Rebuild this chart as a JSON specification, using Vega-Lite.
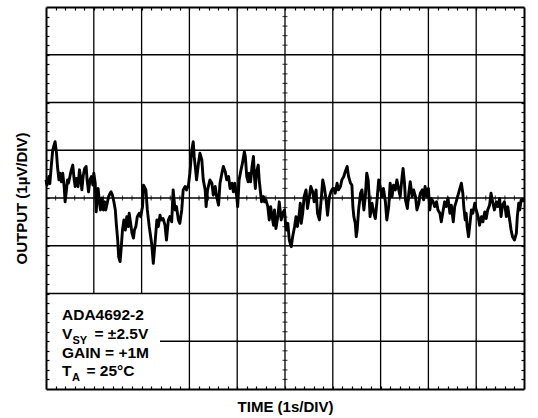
{
  "$schema": "https://vega.github.io/schema/vega-lite/v6.json",
  "width": 478,
  "height": 382,
  "autosize": {"type": "none"},
  "padding": {"left": 46, "top": 7, "right": 14, "bottom": 29},
  "background": "white",
  "config": {
    "view": {"stroke": null},
    "font": "Liberation Sans",
    "axis": {
      "labels": false,
      "grid": false,
      "domainColor": "black",
      "domainWidth": 2,
      "tickColor": "black",
      "tickWidth": 1.2,
      "tickSize": -3,
      "zindex": 1,
      "titleFont": "Liberation Sans",
      "titleFontSize": 15,
      "titleFontWeight": "bold",
      "titleColor": "black"
    }
  },
  "datasets": {
    "grid": [
      {"x1": 1, "x2": 1, "y1": -2, "y2": 4},
      {"x1": 2, "x2": 2, "y1": -2, "y2": 4},
      {"x1": 3, "x2": 3, "y1": -4, "y2": 4},
      {"x1": 4, "x2": 4, "y1": -4, "y2": 4},
      {"x1": 5, "x2": 5, "y1": -4, "y2": 4},
      {"x1": 6, "x2": 6, "y1": -4, "y2": 4},
      {"x1": 7, "x2": 7, "y1": -4, "y2": 4},
      {"x1": 8, "x2": 8, "y1": -4, "y2": 4},
      {"x1": 9, "x2": 9, "y1": -4, "y2": 4},
      {"x1": 0, "x2": 10, "y1": 3, "y2": 3},
      {"x1": 0, "x2": 10, "y1": 2, "y2": 2},
      {"x1": 0, "x2": 10, "y1": 1, "y2": 1},
      {"x1": 0, "x2": 10, "y1": 0, "y2": 0},
      {"x1": 0, "x2": 10, "y1": -1, "y2": -1},
      {"x1": 0, "x2": 10, "y1": -2, "y2": -2},
      {"x1": 2.385, "x2": 10, "y1": -3, "y2": -3}
    ],
    "xminor": [
      {"t": 0.2}, {"t": 0.4}, {"t": 0.6}, {"t": 0.8}, {"t": 1.2}, {"t": 1.4}, {"t": 1.6}, {"t": 1.8},
      {"t": 2.2}, {"t": 2.4}, {"t": 2.6}, {"t": 2.8}, {"t": 3.2}, {"t": 3.4}, {"t": 3.6}, {"t": 3.8},
      {"t": 4.2}, {"t": 4.4}, {"t": 4.6}, {"t": 4.8}, {"t": 5.2}, {"t": 5.4}, {"t": 5.6}, {"t": 5.8},
      {"t": 6.2}, {"t": 6.4}, {"t": 6.6}, {"t": 6.8}, {"t": 7.2}, {"t": 7.4}, {"t": 7.6}, {"t": 7.8},
      {"t": 8.2}, {"t": 8.4}, {"t": 8.6}, {"t": 8.8}, {"t": 9.2}, {"t": 9.4}, {"t": 9.6}, {"t": 9.8}
    ],
    "yminor": [
      {"v": -3.8}, {"v": -3.6}, {"v": -3.4}, {"v": -3.2}, {"v": -2.8}, {"v": -2.6}, {"v": -2.4}, {"v": -2.2},
      {"v": -1.8}, {"v": -1.6}, {"v": -1.4}, {"v": -1.2}, {"v": -0.8}, {"v": -0.6}, {"v": -0.4}, {"v": -0.2},
      {"v": 0.2}, {"v": 0.4}, {"v": 0.6}, {"v": 0.8}, {"v": 1.2}, {"v": 1.4}, {"v": 1.6}, {"v": 1.8},
      {"v": 2.2}, {"v": 2.4}, {"v": 2.6}, {"v": 2.8}, {"v": 3.2}, {"v": 3.4}, {"v": 3.6}, {"v": 3.8}
    ],
    "trace": [
      {"t": 0.00, "v": 0.38}, {"t": 0.02, "v": 0.27}, {"t": 0.06, "v": 0.45}, {"t": 0.08, "v": 0.30},
      {"t": 0.11, "v": 0.66}, {"t": 0.14, "v": 1.00}, {"t": 0.17, "v": 1.11}, {"t": 0.19, "v": 1.18},
      {"t": 0.22, "v": 0.94}, {"t": 0.24, "v": 0.66}, {"t": 0.27, "v": 0.38}, {"t": 0.29, "v": 0.52},
      {"t": 0.32, "v": 0.34}, {"t": 0.35, "v": 0.52}, {"t": 0.38, "v": 0.24}, {"t": 0.40, "v": -0.08},
      {"t": 0.42, "v": 0.10}, {"t": 0.45, "v": 0.38}, {"t": 0.47, "v": 0.31}, {"t": 0.50, "v": 0.45},
      {"t": 0.53, "v": 0.59}, {"t": 0.56, "v": 0.69}, {"t": 0.59, "v": 0.38}, {"t": 0.61, "v": 0.24},
      {"t": 0.64, "v": 0.41}, {"t": 0.67, "v": 0.24}, {"t": 0.70, "v": 0.59}, {"t": 0.73, "v": 0.38},
      {"t": 0.75, "v": 0.17}, {"t": 0.78, "v": 0.48}, {"t": 0.81, "v": 0.62}, {"t": 0.84, "v": 0.66},
      {"t": 0.86, "v": 0.38}, {"t": 0.89, "v": 0.13}, {"t": 0.92, "v": 0.38}, {"t": 0.95, "v": 0.45},
      {"t": 0.98, "v": 0.27}, {"t": 1.00, "v": 0.52}, {"t": 1.03, "v": 0.31}, {"t": 1.05, "v": -0.29},
      {"t": 1.07, "v": 0.03}, {"t": 1.09, "v": 0.20}, {"t": 1.12, "v": -0.11}, {"t": 1.14, "v": -0.25},
      {"t": 1.17, "v": 0.00}, {"t": 1.20, "v": -0.25}, {"t": 1.23, "v": -0.08}, {"t": 1.25, "v": -0.25},
      {"t": 1.28, "v": -0.11}, {"t": 1.31, "v": 0.03}, {"t": 1.34, "v": 0.10}, {"t": 1.36, "v": 0.13},
      {"t": 1.39, "v": 0.06}, {"t": 1.42, "v": -0.08}, {"t": 1.45, "v": -0.25}, {"t": 1.47, "v": -0.53},
      {"t": 1.50, "v": -0.88}, {"t": 1.52, "v": -1.23}, {"t": 1.55, "v": -1.33}, {"t": 1.57, "v": -1.09},
      {"t": 1.60, "v": -0.67}, {"t": 1.63, "v": -0.46}, {"t": 1.66, "v": -0.67}, {"t": 1.69, "v": -0.39},
      {"t": 1.72, "v": -0.60}, {"t": 1.74, "v": -0.32}, {"t": 1.77, "v": -0.53}, {"t": 1.80, "v": -0.74},
      {"t": 1.83, "v": -0.84}, {"t": 1.85, "v": -0.67}, {"t": 1.88, "v": -0.60}, {"t": 1.91, "v": -0.39},
      {"t": 1.95, "v": -0.32}, {"t": 1.98, "v": -0.39}, {"t": 2.02, "v": -0.18}, {"t": 2.04, "v": 0.27},
      {"t": 2.09, "v": 0.17}, {"t": 2.12, "v": -0.25}, {"t": 2.16, "v": -0.60}, {"t": 2.21, "v": -0.95},
      {"t": 2.245, "v": -1.37}, {"t": 2.28, "v": -0.95}, {"t": 2.32, "v": -0.46}, {"t": 2.35, "v": -0.60},
      {"t": 2.385, "v": -0.36}, {"t": 2.41, "v": -0.46}, {"t": 2.45, "v": -0.43}, {"t": 2.49, "v": -0.57},
      {"t": 2.52, "v": -0.88}, {"t": 2.56, "v": -0.46}, {"t": 2.59, "v": -0.39}, {"t": 2.63, "v": -0.50},
      {"t": 2.66, "v": 0.17}, {"t": 2.70, "v": -0.25}, {"t": 2.73, "v": -0.18}, {"t": 2.77, "v": -0.46},
      {"t": 2.80, "v": -0.53}, {"t": 2.84, "v": -0.25}, {"t": 2.87, "v": 0.17}, {"t": 2.91, "v": 0.24},
      {"t": 2.94, "v": 0.17}, {"t": 2.98, "v": 0.27}, {"t": 3.01, "v": 0.52}, {"t": 3.05, "v": 1.00},
      {"t": 3.08, "v": 1.18}, {"t": 3.10, "v": 0.87}, {"t": 3.13, "v": 0.59}, {"t": 3.15, "v": 0.38},
      {"t": 3.19, "v": 0.73}, {"t": 3.22, "v": 0.94}, {"t": 3.26, "v": 0.80}, {"t": 3.29, "v": 0.38},
      {"t": 3.33, "v": 0.17}, {"t": 3.35, "v": -0.18}, {"t": 3.38, "v": 0.17}, {"t": 3.43, "v": 0.38},
      {"t": 3.47, "v": 0.31}, {"t": 3.50, "v": 0.06}, {"t": 3.54, "v": 0.24}, {"t": 3.57, "v": 0.03},
      {"t": 3.61, "v": -0.15}, {"t": 3.64, "v": 0.31}, {"t": 3.68, "v": 0.52}, {"t": 3.71, "v": 0.66},
      {"t": 3.75, "v": 0.55}, {"t": 3.78, "v": 0.38}, {"t": 3.82, "v": 0.45}, {"t": 3.85, "v": 0.20},
      {"t": 3.89, "v": 0.31}, {"t": 3.92, "v": 0.13}, {"t": 3.95, "v": 0.31}, {"t": 3.99, "v": 0.03},
      {"t": 4.01, "v": -0.18}, {"t": 4.04, "v": 0.38}, {"t": 4.08, "v": 0.59}, {"t": 4.11, "v": 0.73},
      {"t": 4.15, "v": 0.97}, {"t": 4.17, "v": 0.87}, {"t": 4.20, "v": 0.45}, {"t": 4.23, "v": 0.34},
      {"t": 4.25, "v": 0.52}, {"t": 4.28, "v": 0.34}, {"t": 4.31, "v": 0.66}, {"t": 4.34, "v": 0.87},
      {"t": 4.36, "v": 0.45}, {"t": 4.38, "v": 0.20}, {"t": 4.40, "v": 0.52}, {"t": 4.44, "v": 0.69},
      {"t": 4.46, "v": 0.38}, {"t": 4.49, "v": 0.10}, {"t": 4.51, "v": -0.08}, {"t": 4.55, "v": 0.03},
      {"t": 4.57, "v": -0.08}, {"t": 4.60, "v": -0.04}, {"t": 4.64, "v": -0.18}, {"t": 4.67, "v": -0.46},
      {"t": 4.70, "v": -0.18}, {"t": 4.73, "v": -0.39}, {"t": 4.76, "v": -0.57}, {"t": 4.78, "v": -0.25},
      {"t": 4.81, "v": -0.64}, {"t": 4.85, "v": -0.39}, {"t": 4.88, "v": -0.08}, {"t": 4.92, "v": -0.46},
      {"t": 4.95, "v": -0.32}, {"t": 4.99, "v": -0.25}, {"t": 5.01, "v": -0.53}, {"t": 5.03, "v": -0.67},
      {"t": 5.06, "v": -0.53}, {"t": 5.09, "v": -0.88}, {"t": 5.13, "v": -1.02}, {"t": 5.16, "v": -0.81},
      {"t": 5.20, "v": -0.60}, {"t": 5.23, "v": -0.39}, {"t": 5.26, "v": -0.60}, {"t": 5.30, "v": -0.32},
      {"t": 5.32, "v": -0.11}, {"t": 5.34, "v": -0.53}, {"t": 5.37, "v": -0.32}, {"t": 5.40, "v": 0.03},
      {"t": 5.44, "v": 0.17}, {"t": 5.47, "v": -0.22}, {"t": 5.51, "v": 0.03}, {"t": 5.54, "v": 0.24},
      {"t": 5.58, "v": 0.13}, {"t": 5.61, "v": -0.08}, {"t": 5.65, "v": 0.17}, {"t": 5.68, "v": -0.32},
      {"t": 5.72, "v": -0.46}, {"t": 5.75, "v": -0.11}, {"t": 5.79, "v": 0.38}, {"t": 5.82, "v": 0.24},
      {"t": 5.86, "v": -0.04}, {"t": 5.89, "v": -0.36}, {"t": 5.93, "v": 0.03}, {"t": 5.96, "v": 0.13},
      {"t": 6.00, "v": 0.20}, {"t": 6.02, "v": 0.20}, {"t": 6.05, "v": 0.10}, {"t": 6.09, "v": 0.31},
      {"t": 6.12, "v": 0.17}, {"t": 6.16, "v": 0.24}, {"t": 6.19, "v": 0.38}, {"t": 6.23, "v": 0.45},
      {"t": 6.26, "v": 0.55}, {"t": 6.30, "v": 0.66}, {"t": 6.33, "v": 0.45}, {"t": 6.37, "v": 0.31},
      {"t": 6.40, "v": 0.27}, {"t": 6.42, "v": -0.18}, {"t": 6.44, "v": -0.39}, {"t": 6.47, "v": -0.53},
      {"t": 6.49, "v": -0.81}, {"t": 6.51, "v": -0.67}, {"t": 6.54, "v": -0.25}, {"t": 6.58, "v": 0.10},
      {"t": 6.61, "v": 0.17}, {"t": 6.65, "v": -0.25}, {"t": 6.68, "v": 0.03}, {"t": 6.71, "v": 0.52},
      {"t": 6.74, "v": 0.38}, {"t": 6.76, "v": 0.03}, {"t": 6.78, "v": -0.39}, {"t": 6.82, "v": -0.11},
      {"t": 6.86, "v": -0.32}, {"t": 6.89, "v": -0.43}, {"t": 6.92, "v": -0.11}, {"t": 6.96, "v": 0.38},
      {"t": 6.99, "v": 0.24}, {"t": 7.03, "v": 0.03}, {"t": 7.06, "v": 0.20}, {"t": 7.10, "v": -0.08},
      {"t": 7.13, "v": -0.46}, {"t": 7.17, "v": -0.18}, {"t": 7.20, "v": 0.31}, {"t": 7.24, "v": 0.03},
      {"t": 7.27, "v": 0.27}, {"t": 7.31, "v": 0.17}, {"t": 7.34, "v": 0.38}, {"t": 7.38, "v": 0.17},
      {"t": 7.41, "v": 0.03}, {"t": 7.45, "v": 0.45}, {"t": 7.47, "v": 0.62}, {"t": 7.50, "v": 0.31},
      {"t": 7.52, "v": -0.04}, {"t": 7.56, "v": -0.22}, {"t": 7.59, "v": 0.10}, {"t": 7.62, "v": 0.34},
      {"t": 7.66, "v": 0.03}, {"t": 7.69, "v": 0.17}, {"t": 7.73, "v": 0.03}, {"t": 7.76, "v": -0.25},
      {"t": 7.80, "v": -0.11}, {"t": 7.83, "v": 0.10}, {"t": 7.87, "v": 0.17}, {"t": 7.90, "v": -0.04},
      {"t": 7.93, "v": 0.24}, {"t": 7.97, "v": 0.03}, {"t": 8.00, "v": 0.20}, {"t": 8.03, "v": -0.25},
      {"t": 8.06, "v": -0.01}, {"t": 8.10, "v": -0.08}, {"t": 8.13, "v": -0.18}, {"t": 8.17, "v": -0.08},
      {"t": 8.20, "v": -0.25}, {"t": 8.24, "v": -0.32}, {"t": 8.27, "v": -0.50}, {"t": 8.31, "v": -0.25},
      {"t": 8.34, "v": -0.08}, {"t": 8.37, "v": -0.18}, {"t": 8.41, "v": 0.00}, {"t": 8.45, "v": -0.32},
      {"t": 8.48, "v": -0.15}, {"t": 8.52, "v": -0.50}, {"t": 8.55, "v": -0.18}, {"t": 8.58, "v": -0.08},
      {"t": 8.62, "v": 0.06}, {"t": 8.65, "v": 0.17}, {"t": 8.69, "v": 0.31}, {"t": 8.72, "v": 0.10},
      {"t": 8.74, "v": -0.18}, {"t": 8.77, "v": -0.46}, {"t": 8.79, "v": -0.32}, {"t": 8.81, "v": -0.60},
      {"t": 8.84, "v": -0.81}, {"t": 8.87, "v": -0.53}, {"t": 8.90, "v": -0.25}, {"t": 8.93, "v": -0.32},
      {"t": 8.97, "v": -0.11}, {"t": 9.00, "v": -0.25}, {"t": 9.04, "v": -0.39}, {"t": 9.07, "v": -0.57},
      {"t": 9.11, "v": -0.39}, {"t": 9.14, "v": -0.50}, {"t": 9.18, "v": -0.29}, {"t": 9.21, "v": -0.43},
      {"t": 9.24, "v": -0.25}, {"t": 9.28, "v": -0.15}, {"t": 9.31, "v": 0.10}, {"t": 9.35, "v": -0.11},
      {"t": 9.38, "v": -0.25}, {"t": 9.42, "v": -0.08}, {"t": 9.45, "v": -0.18}, {"t": 9.49, "v": -0.01},
      {"t": 9.52, "v": -0.39}, {"t": 9.55, "v": -0.15}, {"t": 9.59, "v": -0.08}, {"t": 9.63, "v": -0.39},
      {"t": 9.66, "v": -0.18}, {"t": 9.70, "v": -0.46}, {"t": 9.73, "v": -0.67}, {"t": 9.76, "v": -0.81},
      {"t": 9.80, "v": -0.88}, {"t": 9.84, "v": -0.74}, {"t": 9.86, "v": -0.39}, {"t": 9.89, "v": -0.11},
      {"t": 9.91, "v": -0.25}, {"t": 9.94, "v": -0.04}, {"t": 9.98, "v": -0.04}, {"t": 10.00, "v": -0.08}
    ]
  },
  "resolve": {"axis": {"x": "independent", "y": "independent"}},
  "layer": [
    {
      "data": {"name": "grid"},
      "mark": {"type": "rule", "color": "black", "strokeWidth": 1.3},
      "encoding": {
        "x": {"field": "x1", "type": "quantitative",
              "scale": {"domain": [0, 10], "nice": false, "zero": false},
              "axis": {"orient": "bottom", "title": "TIME (1s/DIV)", "titlePadding": 10,
                       "values": [0.2,0.4,0.6,0.8,1,1.2,1.4,1.6,1.8,2,2.2,2.4,2.6,2.8,3,3.2,3.4,3.6,3.8,4,4.2,4.4,4.6,4.8,5,5.2,5.4,5.6,5.8,6,6.2,6.4,6.6,6.8,7,7.2,7.4,7.6,7.8,8,8.2,8.4,8.6,8.8,9,9.2,9.4,9.6,9.8]}},
        "x2": {"field": "x2"},
        "y": {"field": "y1", "type": "quantitative",
              "scale": {"domain": [-4, 4], "nice": false, "zero": false},
              "axis": {"orient": "left", "title": "OUTPUT (1µV/DIV)", "titlePadding": 16,
                       "values": [-3.8,-3.6,-3.4,-3.2,-3,-2.8,-2.6,-2.4,-2.2,-2,-1.8,-1.6,-1.4,-1.2,-1,-0.8,-0.6,-0.4,-0.2,0,0.2,0.4,0.6,0.8,1,1.2,1.4,1.6,1.8,2,2.2,2.4,2.6,2.8,3,3.2,3.4,3.6,3.8]}},
        "y2": {"field": "y2"}
      }
    },
    {
      "data": {"name": "xminor"},
      "mark": {"type": "tick", "orient": "vertical", "size": 5, "thickness": 1.2, "color": "black"},
      "encoding": {
        "x": {"field": "t", "type": "quantitative",
              "axis": {"orient": "top", "title": null,
                       "values": [0.2,0.4,0.6,0.8,1,1.2,1.4,1.6,1.8,2,2.2,2.4,2.6,2.8,3,3.2,3.4,3.6,3.8,4,4.2,4.4,4.6,4.8,5,5.2,5.4,5.6,5.8,6,6.2,6.4,6.6,6.8,7,7.2,7.4,7.6,7.8,8,8.2,8.4,8.6,8.8,9,9.2,9.4,9.6,9.8]}},
        "y": {"datum": 0, "type": "quantitative", "axis": null}
      }
    },
    {
      "data": {"name": "yminor"},
      "mark": {"type": "tick", "orient": "horizontal", "size": 5, "thickness": 1.2, "color": "black"},
      "encoding": {
        "y": {"field": "v", "type": "quantitative",
              "axis": {"orient": "right", "title": null,
                       "values": [-3.8,-3.6,-3.4,-3.2,-3,-2.8,-2.6,-2.4,-2.2,-2,-1.8,-1.6,-1.4,-1.2,-1,-0.8,-0.6,-0.4,-0.2,0,0.2,0.4,0.6,0.8,1,1.2,1.4,1.6,1.8,2,2.2,2.4,2.6,2.8,3,3.2,3.4,3.6,3.8]}},
        "x": {"datum": 5, "type": "quantitative", "axis": null}
      }
    },
    {
      "data": {"name": "trace"},
      "mark": {"type": "line", "color": "black", "strokeWidth": 2.9, "strokeJoin": "round"},
      "encoding": {
        "x": {"field": "t", "type": "quantitative", "axis": null},
        "y": {"field": "v", "type": "quantitative", "axis": null}
      }
    },
    {
      "data": {"values": [{}]},
      "mark": {"type": "text", "text": "ADA4692-2", "align": "left", "baseline": "alphabetic", "font": "Liberation Sans", "fontWeight": "bold", "fontSize": 15.5, "color": "black"},
      "encoding": {"x": {"datum": 0.335, "type": "quantitative", "axis": null}, "y": {"datum": -2.565, "type": "quantitative", "axis": null}}
    },
    {
      "data": {"values": [{}]},
      "mark": {"type": "text", "text": "V", "align": "left", "baseline": "alphabetic", "font": "Liberation Sans", "fontWeight": "bold", "fontSize": 15.5, "color": "black"},
      "encoding": {"x": {"datum": 0.335, "type": "quantitative", "axis": null}, "y": {"datum": -2.953, "type": "quantitative", "axis": null}}
    },
    {
      "data": {"values": [{}]},
      "mark": {"type": "text", "text": "SY", "align": "left", "baseline": "alphabetic", "font": "Liberation Sans", "fontWeight": "bold", "fontSize": 11, "dx": 10.5, "dy": 5, "color": "black"},
      "encoding": {"x": {"datum": 0.335, "type": "quantitative", "axis": null}, "y": {"datum": -2.953, "type": "quantitative", "axis": null}}
    },
    {
      "data": {"values": [{}]},
      "mark": {"type": "text", "text": "= ±2.5V", "align": "left", "baseline": "alphabetic", "font": "Liberation Sans", "fontWeight": "bold", "fontSize": 15.5, "dx": 32.5, "color": "black"},
      "encoding": {"x": {"datum": 0.335, "type": "quantitative", "axis": null}, "y": {"datum": -2.953, "type": "quantitative", "axis": null}}
    },
    {
      "data": {"values": [{}]},
      "mark": {"type": "text", "text": "GAIN = +1M", "align": "left", "baseline": "alphabetic", "font": "Liberation Sans", "fontWeight": "bold", "fontSize": 15.5, "color": "black"},
      "encoding": {"x": {"datum": 0.335, "type": "quantitative", "axis": null}, "y": {"datum": -3.351, "type": "quantitative", "axis": null}}
    },
    {
      "data": {"values": [{}]},
      "mark": {"type": "text", "text": "T", "align": "left", "baseline": "alphabetic", "font": "Liberation Sans", "fontWeight": "bold", "fontSize": 15.5, "color": "black"},
      "encoding": {"x": {"datum": 0.335, "type": "quantitative", "axis": null}, "y": {"datum": -3.728, "type": "quantitative", "axis": null}}
    },
    {
      "data": {"values": [{}]},
      "mark": {"type": "text", "text": "A", "align": "left", "baseline": "alphabetic", "font": "Liberation Sans", "fontWeight": "bold", "fontSize": 11, "dx": 10, "dy": 5, "color": "black"},
      "encoding": {"x": {"datum": 0.335, "type": "quantitative", "axis": null}, "y": {"datum": -3.728, "type": "quantitative", "axis": null}}
    },
    {
      "data": {"values": [{}]},
      "mark": {"type": "text", "text": "= 25°C", "align": "left", "baseline": "alphabetic", "font": "Liberation Sans", "fontWeight": "bold", "fontSize": 15.5, "dx": 24.5, "color": "black"},
      "encoding": {"x": {"datum": 0.335, "type": "quantitative", "axis": null}, "y": {"datum": -3.728, "type": "quantitative", "axis": null}}
    }
  ]
}
